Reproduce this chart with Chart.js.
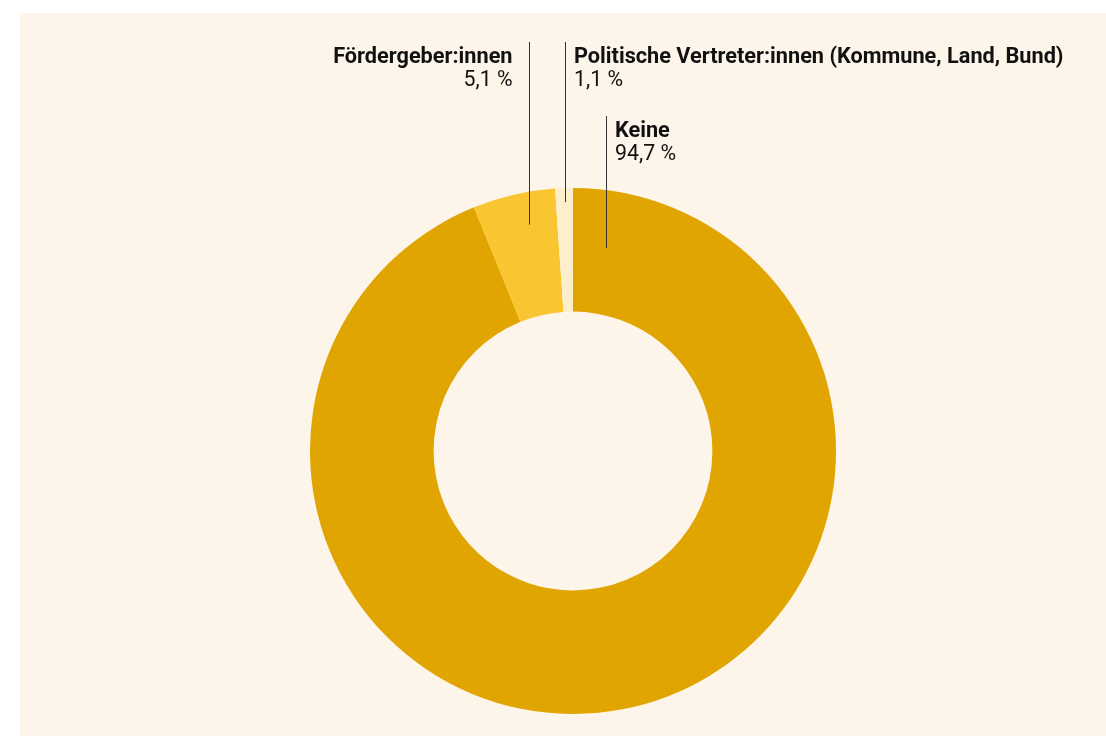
<!DOCTYPE html>
<html lang="de">
<head>
<meta charset="utf-8">
<script src="https://cdn.jsdelivr.net/npm/chart.js@4/dist/chart.umd.min.js"></script>
<style>
  html, body { margin: 0; padding: 0; background: #fff; }
  .panel {
    position: absolute; left: 20px; top: 13px; right: 0; bottom: 0;
    background: #fdf5e9;
  }
  .wrap { position: absolute; left: 0; top: 0; width: 1106px; height: 736px; }
</style>
</head>
<body>
<div class="panel"></div>
<div class="wrap"><canvas id="donut"></canvas></div>
<script>
// Values
const categories = ['Keine', 'Fördergeber:innen', 'Politische Vertreter:innen (Kommune, Land, Bund)'];
const values = [94.7, 5.1, 1.1];
const colors = ['#e0a500', '#f9c631', '#fdefcc'];

// label placement: which side the text sits on, where along the slice the
// leader line hits (0..1 of the angle), how deep it goes into the ring, line top
const labelSide = ['right', 'left', 'right'];
const labelAt = [0.027, 0.55, 0.47];
const labelDepth = [58, 33, 14];
const labelTop = [116, 42, 42];

const fmt = v => v.toLocaleString('de-DE', { minimumFractionDigits: 1 }) + ' %';

const leaderLabels = {
  id: 'leaderLabels',
  afterDatasetsDraw(chart) {
    const ctx = chart.ctx;
    const arcs = chart.getDatasetMeta(0).data;
    arcs.forEach((arc, i) => {
      const { x, y, startAngle, endAngle, outerRadius } = arc.getProps(['x', 'y', 'startAngle', 'endAngle', 'outerRadius'], true);
      const a = startAngle + (endAngle - startAngle) * labelAt[i];
      const r = outerRadius * 0.8;
      const lx = Math.round(x + Math.cos(a) * r) + 0.5;
      const edgeY = y - Math.sqrt(outerRadius * outerRadius - (lx - x) * (lx - x));
      const top = labelTop[i];

      ctx.save();
      ctx.strokeStyle = '#333';
      ctx.lineWidth = 1;
      ctx.beginPath();
      ctx.moveTo(lx, top);
      ctx.lineTo(lx, edgeY + labelDepth[i]);
      ctx.stroke();

      ctx.fillStyle = '#111';
      ctx.textBaseline = 'alphabetic';
      const tx = labelSide[i] === 'left' ? lx - 17 : lx + 8.5;
      ctx.textAlign = labelSide[i] === 'left' ? 'right' : 'left';
      ctx.font = 'bold 21.7px Roboto';
      ctx.fillText(categories[i], tx, top + 21);
      ctx.font = '21.3px Roboto';
      ctx.fillText(fmt(values[i]), tx, top + 44);
      ctx.restore();
    });
  }
};

new Chart(document.getElementById('donut'), {
  type: 'doughnut',
  data: {
    labels: categories,
    datasets: [{
      data: values,
      backgroundColor: colors,
      borderWidth: 0,
      hoverOffset: 0
    }]
  },
  options: {
    responsive: true,
    maintainAspectRatio: false,
    animation: false,
    cutout: '53%',
    layout: { padding: { left: 310, right: 270, top: 188, bottom: 22 } },
    plugins: {
      legend: { display: false },
      tooltip: { enabled: false }
    }
  },
  plugins: [leaderLabels]
});
</script>
</body>
</html>
